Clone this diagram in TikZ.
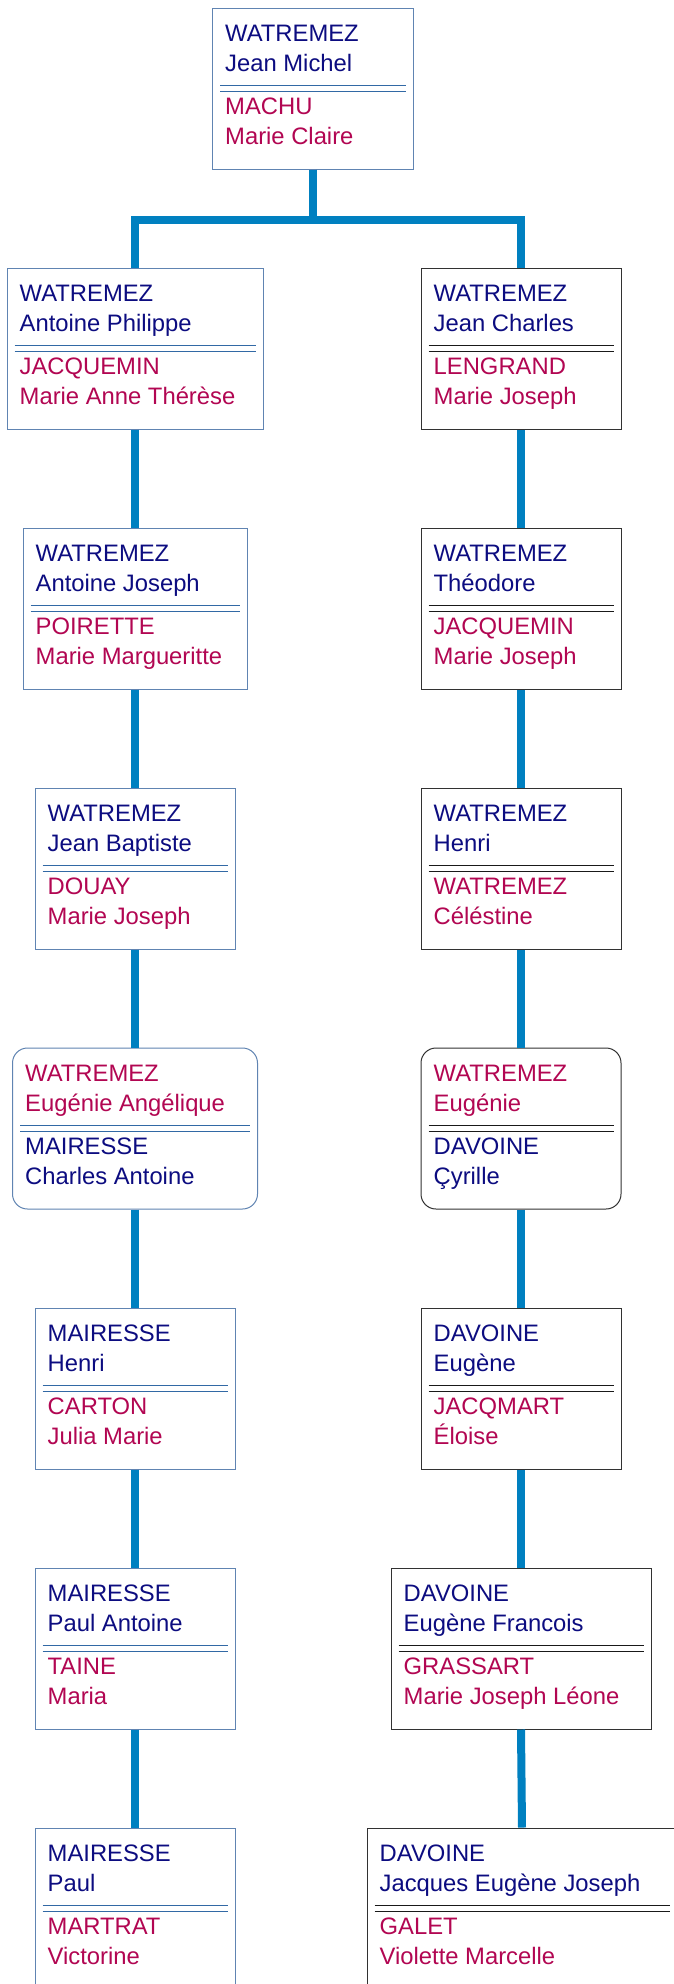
\documentclass[tikz,border=0pt]{standalone}
\usepackage{fontspec}
\setmainfont{Liberation Sans}
\definecolor{mnavy}{RGB}{12,12,128}
\definecolor{mrose}{RGB}{178,6,82}
\definecolor{connblue}{RGB}{0,128,192}
\definecolor{boxblue}{RGB}{96,132,178}
\definecolor{sepbluec}{RGB}{50,105,165}
\definecolor{boxblack}{RGB}{50,50,50}
\definecolor{sepblackc}{RGB}{25,25,25}
\tikzset{
  conn/.style={draw=connblue, line width=8pt},
  bluebox/.style={draw=boxblue, line width=1pt, fill=white, inner sep=0pt, minimum height=161pt},
  blackbox/.style={draw=boxblack, line width=1pt, fill=white, inner sep=0pt, minimum height=161pt},
  bluesep/.style={draw=sepbluec, line width=1pt},
  blacksep/.style={draw=sepblackc, line width=1pt},
  extra/.style={},
  nametext/.style={anchor=base west, inner sep=0pt, font=\fontsize{23.8}{28}\selectfont},
}
\newcommand\famgen[9]{%
  \node[#5box, extra, minimum width=#4pt, anchor=north] (#1) at (#2,-#3) {};
  \node[nametext, text=\firstcol] (#1-1) at ([shift={(13pt,-34pt)}]#1.north west) {#6};
  \node[nametext, text=\firstcol] (#1-2) at ([shift={(13pt,-64pt)}]#1.north west) {#7};
  \draw[#5sep] ([shift={(8pt,-78pt)}]#1.north west) -- ([shift={(-8pt,-78pt)}]#1.north east);
  \draw[#5sep] ([shift={(8pt,-84pt)}]#1.north west) -- ([shift={(-8pt,-84pt)}]#1.north east);
  \node[nametext, text=\secondcol] (#1-3) at ([shift={(13pt,-107pt)}]#1.north west) {#8};
  \node[nametext, text=\secondcol] (#1-4) at ([shift={(13pt,-137pt)}]#1.north west) {#9};
}
\newcommand\famA{\def\firstcol{mnavy}\def\secondcol{mrose}\tikzset{extra/.style={}}\famgen}
\newcommand\famB{\def\firstcol{mrose}\def\secondcol{mnavy}\tikzset{extra/.style={rounded corners=15pt}}\famgen}
\begin{document}
\begin{tikzpicture}[x=1pt,y=1pt]
\useasboundingbox (0,0) rectangle (673,-1984);
\fill[white] (0,0) rectangle (673,-1984);
% top couple
\famA{top}{313}{7.5}{201}{blue}{WATREMEZ}{Jean Michel}{MACHU}{Marie Claire}
% left column
\famA{l1}{135}{267.5}{256}{blue}{WATREMEZ}{Antoine Philippe}{JACQUEMIN}{Marie Anne Thérèse}
\famA{l2}{135}{527.5}{224}{blue}{WATREMEZ}{Antoine Joseph}{POIRETTE}{Marie Margueritte}
\famA{l3}{135}{787.5}{200}{blue}{WATREMEZ}{Jean Baptiste}{DOUAY}{Marie Joseph}
\famB{l4}{135}{1047.5}{245}{blue}{WATREMEZ}{Eugénie Angélique}{MAIRESSE}{Charles Antoine}
\famA{l5}{135}{1307.5}{200}{blue}{MAIRESSE}{Henri}{CARTON}{Julia Marie}
\famA{l6}{135}{1567.5}{200}{blue}{MAIRESSE}{Paul Antoine}{TAINE}{Maria}
\famA{l7}{135}{1827.5}{200}{blue}{MAIRESSE}{Paul}{MARTRAT}{Victorine}
% right column
\famA{r1}{521}{267.5}{200}{black}{WATREMEZ}{Jean Charles}{LENGRAND}{Marie Joseph}
\famA{r2}{521}{527.5}{200}{black}{WATREMEZ}{Théodore}{JACQUEMIN}{Marie Joseph}
\famA{r3}{521}{787.5}{200}{black}{WATREMEZ}{Henri}{WATREMEZ}{Céléstine}
\famB{r4}{521}{1047.5}{200}{black}{WATREMEZ}{Eugénie}{DAVOINE}{Çyrille}
\famA{r5}{521}{1307.5}{200}{black}{DAVOINE}{Eugène}{JACQMART}{Éloise}
\famA{r6}{521}{1567.5}{260}{black}{DAVOINE}{Eugène Francois}{GRASSART}{Marie Joseph Léone}
\famA{r7}{522}{1827.5}{310}{black}{DAVOINE}{Jacques Eugène Joseph}{GALET}{Violette Marcelle}
% connectors
\draw[conn] (top.south) -- ++(0,-50) -| (l1.north);
\draw[conn] (top.south) -- ++(0,-50) -| (r1.north);
\foreach \a/\b in {l1/l2,l2/l3,l3/l4,l4/l5,l5/l6,l6/l7,r1/r2,r2/r3,r3/r4,r4/r5,r5/r6,r6/r7}
  \draw[conn] (\a.south) -- (\b.north);
\end{tikzpicture}
\end{document}
